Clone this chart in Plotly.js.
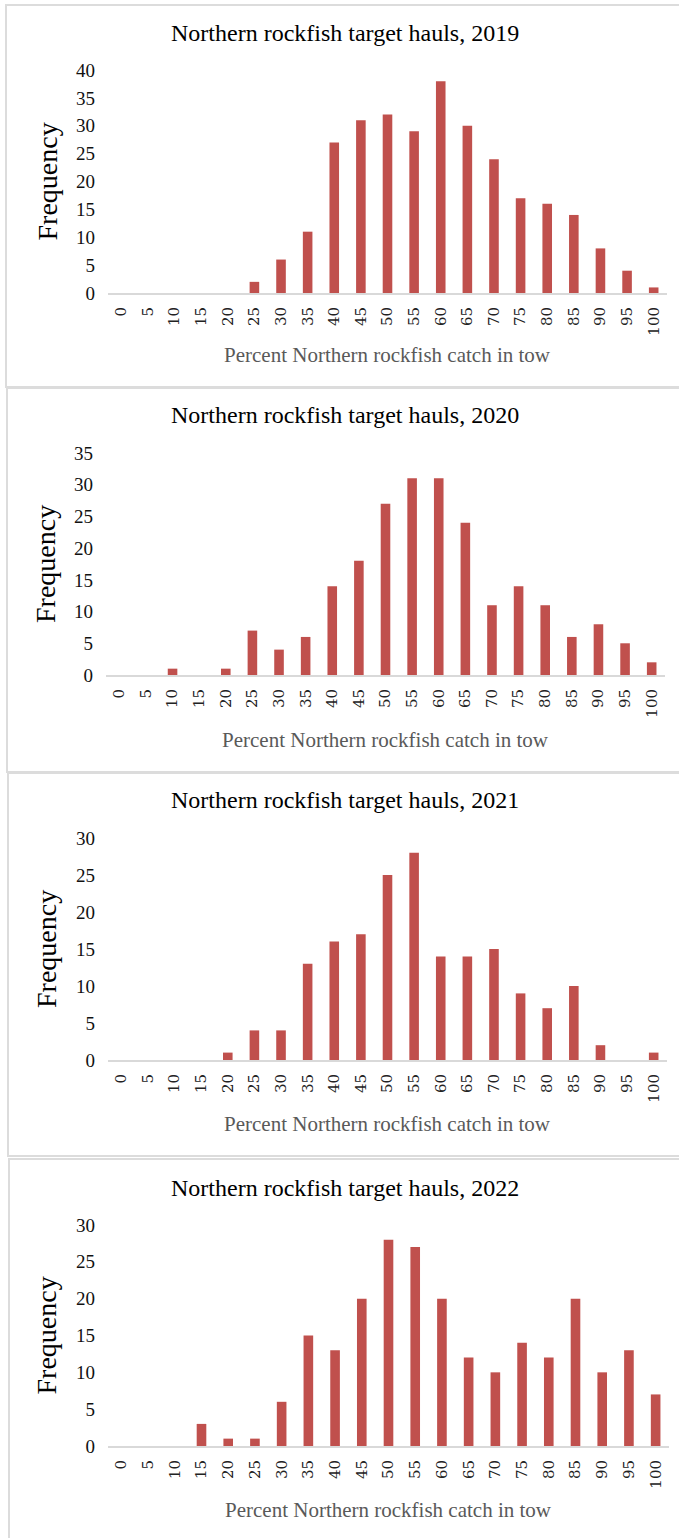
<!DOCTYPE html>
<html>
<head>
<meta charset="utf-8">
<script src="https://cdn.plot.ly/plotly-3.0.1.min.js"></script>
<style>
  html, body { margin: 0; padding: 0; background: #ffffff; }
  #chart { width: 679px; height: 1538px; }
</style>
</head>
<body>
<div id="chart"></div>
<script>
// ---- Data ----
const categories = ['0','5','10','15','20','25','30','35','40','45','50','55','60','65','70','75','80','85','90','95','100'];
const years = ['2019', '2020', '2021', '2022'];
const values2019 = [0,0,0,0,0,2,6,11,27,31,32,29,38,30,24,17,16,14,8,4,1];
const values2020 = [0,0,1,0,1,7,4,6,14,18,27,31,31,24,11,14,11,6,8,5,2];
const values2021 = [0,0,0,0,1,4,4,13,16,17,25,28,14,14,15,9,7,10,2,0,1];
const values2022 = [0,0,0,3,1,1,6,15,13,20,28,27,20,12,10,14,12,20,10,13,7];
const yMax = [40, 35, 30, 30];
const titlePrefix = 'Northern rockfish target hauls, ';
const xTitle = 'Percent Northern rockfish catch in tow';
const yTitle = 'Frequency';

const allValues = [values2019, values2020, values2021, values2022];

// ---- Layout geometry (pixels) ----
const W = 679, H = 1538;
const panels = [
  {top: 5,    bottom: 387,  left: 6, plotL: 108, plotR: 667, yTop: 70,   yBot: 293,  titleY: 33,   xTitleY: 355,  yTitleX: 47},
  {top: 388,  bottom: 772,  left: 7, plotL: 106, plotR: 665, yTop: 453,  yBot: 675,  titleY: 415,  xTitleY: 740,  yTitleX: 45},
  {top: 773,  bottom: 1156, left: 8, plotL: 108, plotR: 667, yTop: 838,  yBot: 1060, titleY: 800,  xTitleY: 1124, yTitleX: 46},
  {top: 1159, bottom: 1545, left: 9, plotL: 108, plotR: 669, yTop: 1225, yBot: 1446, titleY: 1188, xTitleY: 1510, yTitleX: 46}
];
const px = x => x / W;
const py = y => 1 - y / H;

const FONT = '"Liberation Serif", "Times New Roman", serif';
const TICK_FONT = '"DejaVu Serif", serif';
const BAR_COLOR = '#C0504D';
const AXIS_COLOR = '#D9D9D9';

const traces = [];
const layout = {
  width: W, height: H,
  margin: {l: 0, r: 0, t: 0, b: 0},
  paper_bgcolor: '#ffffff',
  plot_bgcolor: '#ffffff',
  showlegend: false,
  bargap: 0.64,
  font: {family: FONT, color: '#000000'},
  annotations: [],
  shapes: []
};

panels.forEach((p, i) => {
  const n = i === 0 ? '' : String(i + 1);
  traces.push({
    type: 'bar',
    x: categories,
    y: allValues[i],
    xaxis: 'x' + n,
    yaxis: 'y' + n,
    marker: {color: BAR_COLOR},
    hoverinfo: 'x+y'
  });
  layout['xaxis' + n] = {
    domain: [px(p.plotL), px(p.plotR)],
    anchor: 'y' + n,
    type: 'category',
    showgrid: false,
    zeroline: false,
    showline: true,
    linecolor: AXIS_COLOR,
    linewidth: 2,
    ticks: '',
    tickangle: -90,
    ticklabelstandoff: 6,
    tickfont: {family: TICK_FONT, size: 15, color: '#222222'},
    fixedrange: true
  };
  layout['yaxis' + n] = {
    domain: [py(p.yBot), py(p.yTop)],
    anchor: 'x' + n,
    range: [0, yMax[i]],
    dtick: 5,
    showgrid: false,
    zeroline: false,
    showline: false,
    ticks: '',
    ticklabelstandoff: 12,
    tickfont: {family: FONT, size: 19, color: '#111111'},
    fixedrange: true
  };
  // panel border
  layout.shapes.push({
    type: 'rect', xref: 'paper', yref: 'paper',
    x0: px(p.left), x1: px(W + 5), y0: py(p.bottom), y1: py(p.top),
    line: {color: '#DCDCDC', width: 2}, fillcolor: 'rgba(0,0,0,0)', layer: 'below'
  });
  // chart title
  layout.annotations.push({
    xref: 'paper', yref: 'paper', x: px(345), y: py(p.titleY),
    xanchor: 'center', yanchor: 'middle', showarrow: false,
    text: titlePrefix + years[i],
    font: {family: FONT, size: 24, color: '#000000'}
  });
  // x-axis title
  layout.annotations.push({
    xref: 'paper', yref: 'paper', x: px((p.plotL + p.plotR) / 2), y: py(p.xTitleY),
    xanchor: 'center', yanchor: 'middle', showarrow: false,
    text: xTitle,
    font: {family: FONT, size: 21, color: '#595959'}
  });
  // y-axis title
  layout.annotations.push({
    xref: 'paper', yref: 'paper', x: px(p.yTitleX), y: py((p.yTop + p.yBot) / 2),
    xanchor: 'center', yanchor: 'middle', showarrow: false,
    textangle: -90,
    text: yTitle,
    font: {family: FONT, size: 28, color: '#000000'}
  });
});

Plotly.newPlot('chart', traces, layout, {displayModeBar: false, staticPlot: true});
</script>
</body>
</html>
